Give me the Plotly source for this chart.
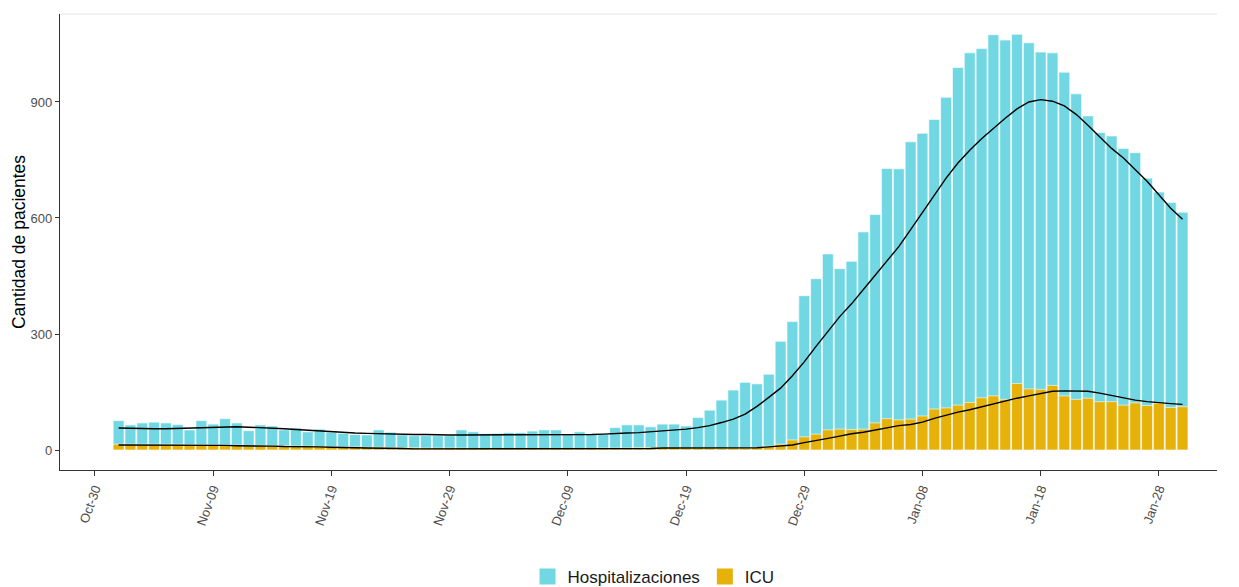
import pandas as pd
import plotly.graph_objects as go

# ---- data ----
first_day = "2020-11-01"

hospitalizaciones = [
    76, 65, 70, 72, 70, 66, 52, 76, 67, 81,
    70, 50, 65, 62, 52, 57, 47, 54, 46, 43,
    40, 39, 52, 46, 39, 37, 37, 37, 37, 52,
    47, 42, 43, 45, 45, 49, 52, 52, 41, 47,
    41, 41, 58, 65, 65, 60, 67, 67, 62, 84,
    103, 129, 155, 175, 171, 196, 281, 332, 399, 443,
    507, 469, 488, 564, 609, 728, 727, 797, 819, 855,
    912, 989, 1027, 1038, 1074, 1060, 1075, 1053, 1029, 1027,
    977, 921, 864, 821, 812, 780, 769, 703, 667, 640,
    615,
]

icu = [
    15, 15, 15, 15, 15, 15, 14, 14, 14, 13,
    13, 12, 12, 11, 11, 10, 10, 9, 9, 8,
    8, 7, 7, 6, 6, 6, 5, 5, 5, 5,
    4, 4, 3, 3, 3, 3, 3, 4, 4, 4,
    4, 5, 5, 5, 6, 6, 6, 6, 5, 5,
    5, 4, 5, 5, 7, 10, 15, 26, 34, 41,
    52, 54, 53, 54, 70, 81, 78, 80, 88, 106,
    109, 116, 123, 135, 140, 131, 172, 158, 157, 167,
    140, 131, 134, 125, 125, 116, 122, 115, 121, 110,
    112,
]

hosp_trend = [
    57, 56, 55, 55, 55, 56, 56, 57, 58, 59,
    60, 59, 58, 57, 55, 53, 51, 49, 47, 45,
    44, 43, 42, 41, 40, 40, 40, 39, 39, 39,
    39, 39, 39, 39, 40, 40, 40, 40, 40, 40,
    40, 41, 43, 44, 45, 47, 49, 51, 54, 58,
    63, 71, 80, 93, 113, 136, 160, 192, 228, 268,
    308, 345, 378, 414, 452, 489, 526, 570, 615, 660,
    703, 742, 775, 805, 832, 858, 882, 900, 906, 902,
    890, 868, 840, 810, 780, 755, 725, 695, 660, 625,
    597,
]

icu_trend = [
    13, 13, 13, 13, 13, 13, 13, 13, 13, 12,
    11, 11, 10, 10, 9, 9, 8, 8, 7, 7,
    6, 5, 5, 4, 4, 3, 3, 3, 3, 3,
    3, 3, 3, 3, 3, 3, 3, 3, 3, 3,
    3, 3, 3, 3, 4, 4, 5, 5, 5, 5,
    5, 5, 6, 6, 6, 8, 10, 13, 19, 24,
    30, 36, 42, 46, 52, 58, 63, 66, 72, 82,
    90, 98, 104, 112, 119, 126, 134, 140, 146, 152,
    153, 153, 152, 147, 141, 135, 129, 125, 122, 120,
    118,
]

tick_dates = ["2020-10-30", "2020-11-09", "2020-11-19", "2020-11-29", "2020-12-09",
              "2020-12-19", "2020-12-29", "2021-01-08", "2021-01-18", "2021-01-28"]
tick_labels = ["Oct-30", "Nov-09", "Nov-19", "Nov-29", "Dec-09",
               "Dec-19", "Dec-29", "Jan-08", "Jan-18", "Jan-28"]

series_names = ["Hospitalizaciones", "ICU"]
series_colors = ["#71D8E3", "#E6B20A"]

dates = pd.date_range(first_day, periods=len(hospitalizaciones), freq="D")
DAY_MS = 86400000

fig = go.Figure()

fig.add_trace(go.Bar(
    x=dates, y=hospitalizaciones, name=series_names[0],
    marker=dict(color=series_colors[0], line=dict(color="white", width=0.6)),
    width=DAY_MS * 0.92, showlegend=False,
))
fig.add_trace(go.Bar(
    x=dates, y=icu, name=series_names[1],
    marker=dict(color=series_colors[1], line=dict(color="white", width=0.6)),
    width=DAY_MS * 0.92, showlegend=False,
))
fig.add_trace(go.Scatter(
    x=dates, y=hosp_trend, mode="lines", line=dict(color="black", width=1.4),
    showlegend=False, hoverinfo="skip",
))
fig.add_trace(go.Scatter(
    x=dates, y=icu_trend, mode="lines", line=dict(color="black", width=1.4),
    showlegend=False, hoverinfo="skip",
))

# legend entries (square swatches)
for nm, col in zip(series_names, series_colors):
    fig.add_trace(go.Scatter(
        x=[None], y=[None], mode="markers", name=nm,
        marker=dict(symbol="square", size=22, color=col),
        showlegend=True,
    ))

fig.update_layout(
    width=1239, height=587,
    barmode="overlay",
    paper_bgcolor="white", plot_bgcolor="white",
    margin=dict(l=52, r=30, t=6, b=125, autoexpand=False),
    font=dict(family="Liberation Sans, Arial, sans-serif", color="#000000"),
    legend=dict(
        orientation="h", x=0.513, xanchor="center",
        yref="container", y=0.0, yanchor="bottom",
        font=dict(size=17, color="#1a1a1a"), itemsizing="trace",
        bgcolor="rgba(0,0,0,0)",
    ),
    xaxis=dict(
        type="date", automargin=False,
        range=["2020-10-27 01:00", "2021-02-01 22:00"],
        tickvals=tick_dates, ticktext=tick_labels, tickangle=-70,
        tickfont=dict(size=13, color="#4D4D4D"),
        ticks="outside", ticklen=5, tickcolor="#333333", tickwidth=1,
        showline=True, linecolor="#333333", linewidth=1.3,
        showgrid=False, zeroline=False,
    ),
    yaxis=dict(
        automargin=False,
        range=[-51.7, 1127.5],
        tickvals=[0, 300, 600, 900],
        tickfont=dict(size=13, color="#4D4D4D"),
        ticks="outside", ticklen=4, tickcolor="#333333", tickwidth=1,
        showline=True, linecolor="#333333", linewidth=1.3,
        showgrid=False, zeroline=False,
        title=dict(text="Cantidad de pacientes", font=dict(size=17.5, color="#000000"), standoff=0),
    ),
)

# faint top border line of the panel
fig.add_shape(type="line", xref="paper", yref="paper", x0=0, x1=1, y0=1, y1=1,
              line=dict(color="#E6E6E6", width=1))

fig.write_html("out.html")
